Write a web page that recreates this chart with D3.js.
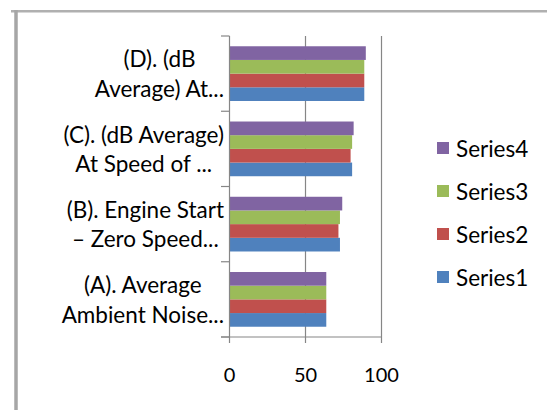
<!DOCTYPE html>
<html>
<head>
<meta charset="utf-8">
<script src="https://cdn.jsdelivr.net/npm/d3@7"></script>
<style>
  html, body { margin: 0; padding: 0; background: #fff; }
  svg { display: block; }
  text { font-family: "Lato", "Liberation Sans", sans-serif; fill: #000; }
</style>
</head>
<body>
<svg id="chart" width="547" height="410"></svg>
<script>
// ---- data ----
const categories = [
  ["(A). Average", "Ambient Noise..."],
  ["(B). Engine Start", "\u2013 Zero Speed..."],
  ["(C). (dB Average)", "At Speed of ..."],
  ["(D). (dB", "Average) At..."]
];
const seriesNames = ["Series1", "Series2", "Series3", "Series4"];
const series1 = [64, 73, 81, 89];
const series2 = [64, 72, 80, 89];
const series3 = [64, 73, 81, 89];
const series4 = [64, 74.5, 82, 90];
const xTicks = [0, 50, 100];
const colors = ["#4F81BD", "#C0504D", "#9BBB59", "#8064A2"];

const seriesValues = [series1, series2, series3, series4];

const svg = d3.select("#chart");

// outer frame
svg.append("line").attr("x1", 11).attr("x2", 547).attr("y1", 11.3).attr("y2", 11.3)
  .attr("stroke", "#b0b0b0").attr("stroke-width", 2.5);
svg.append("line").attr("x1", 16).attr("x2", 16).attr("y1", 10).attr("y2", 410)
  .attr("stroke", "#a6a6a6").attr("stroke-width", 3.5);

const plot = { left: 229, right: 381, top: 36, bottom: 337 };

const x = d3.scaleLinear().domain([0, 100]).range([plot.left, plot.right]);
const catIdx = d3.range(categories.length);
const y = d3.scaleBand().domain(catIdx).range([plot.bottom, plot.top]).paddingInner(0).paddingOuter(0);

const gapRatio = 1.5;
const bw = y.bandwidth();
const groupH = bw * 4 / (4 + gapRatio);
const yInner = d3.scaleBand().domain(d3.range(seriesNames.length).reverse())
  .range([(bw - groupH) / 2, (bw + groupH) / 2]);

const axisColor = "#868686";

// gridlines (50, 100)
svg.append("g").selectAll("line").data(xTicks.filter(t => t > 0)).join("line")
  .attr("x1", d => x(d) + 0.5).attr("x2", d => x(d) + 0.5)
  .attr("y1", plot.top).attr("y2", plot.bottom)
  .attr("stroke", axisColor).attr("stroke-width", 1.2);

// bars
const gBars = svg.append("g");
catIdx.forEach(ci => {
  seriesValues.forEach((vals, si) => {
    gBars.append("rect")
      .attr("x", x(0))
      .attr("y", y(ci) + yInner(si))
      .attr("width", x(vals[ci]) - x(0))
      .attr("height", yInner.bandwidth())
      .attr("fill", colors[si]);
  });
});

// category axis (left)
const yAxisG = svg.append("g");
yAxisG.append("line").attr("x1", plot.left + 0.5).attr("x2", plot.left + 0.5)
  .attr("y1", plot.top).attr("y2", plot.bottom)
  .attr("stroke", axisColor).attr("stroke-width", 1.2);
const catTicks = catIdx.map(ci => y(ci) + bw).concat([y(catIdx.length - 1)]);
yAxisG.selectAll("line.ct").data(catTicks).join("line").attr("class", "ct")
  .attr("x1", plot.left - 8).attr("x2", plot.left + 0.5)
  .attr("y1", d => d).attr("y2", d => d)
  .attr("stroke", axisColor).attr("stroke-width", 1.2);

// value axis (bottom)
const xAxisG = svg.append("g");
xAxisG.append("line").attr("x1", plot.left - 8).attr("x2", plot.right + 0.5)
  .attr("y1", plot.bottom).attr("y2", plot.bottom)
  .attr("stroke", axisColor).attr("stroke-width", 1.2);
xAxisG.selectAll("line.xt").data(xTicks).join("line").attr("class", "xt")
  .attr("x1", d => x(d) + 0.5).attr("x2", d => x(d) + 0.5)
  .attr("y1", plot.bottom).attr("y2", plot.bottom + 6)
  .attr("stroke", axisColor).attr("stroke-width", 1.2);
xAxisG.selectAll("text").data(xTicks).join("text")
  .attr("x", d => x(d) + 0.5).attr("y", 374)
  .attr("text-anchor", "middle").attr("dominant-baseline", "central")
  .attr("font-size", 20)
  .text(d => d);

// category labels (multi-line, centered lines, right-aligned block)
const labelRight = 224;
const lineH = 29.5;
const fontSize = 22.5;
catIdx.forEach(ci => {
  const cy = y(ci) + bw / 2;
  const g = svg.append("g");
  const texts = categories[ci].map((ln, li) =>
    g.append("text")
      .attr("y", cy + (li - (categories[ci].length - 1) / 2) * lineH)
      .attr("dominant-baseline", "central")
      .attr("text-anchor", "middle")
      .attr("font-size", fontSize)
      .text(ln));
  const widths = texts.map(t => t.node().getComputedTextLength());
  const maxW = d3.max(widths);
  const center = labelRight - maxW / 2;
  texts.forEach(t => t.attr("x", center));
});

// legend (Series4 on top)
const legendOrder = d3.range(seriesNames.length).reverse();
const lg = svg.append("g");
legendOrder.forEach((si, i) => {
  const cy = 148 + i * 43;
  lg.append("rect").attr("x", 437).attr("y", cy - 6).attr("width", 12).attr("height", 12)
    .attr("fill", colors[si]);
  lg.append("text").attr("x", 456).attr("y", cy)
    .attr("dominant-baseline", "central").attr("font-size", fontSize)
    .text(seriesNames[si]);
});
</script>
</body>
</html>
